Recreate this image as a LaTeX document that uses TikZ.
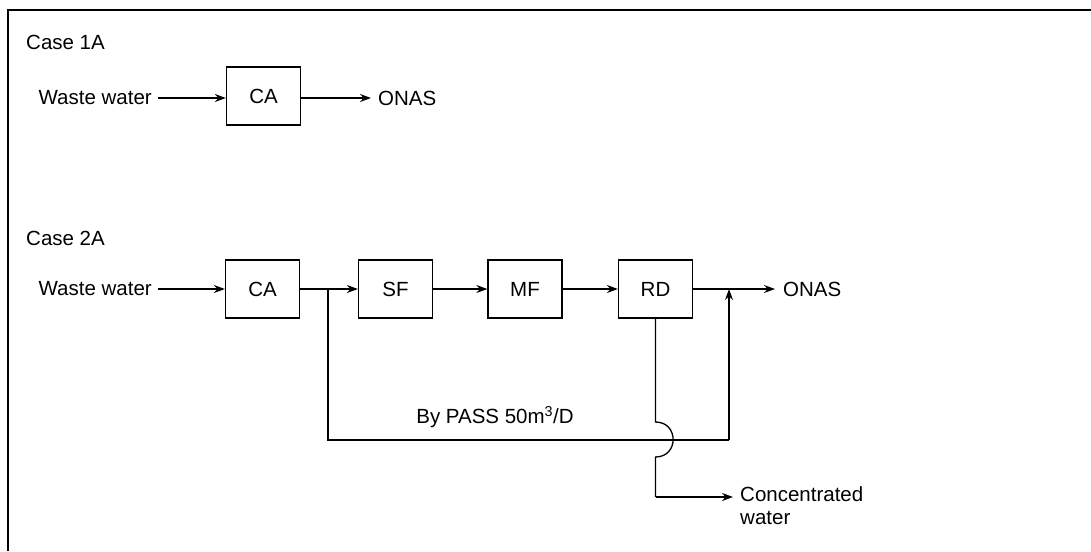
\documentclass[tikz,border=0pt]{standalone}
\usepackage{fontspec}
\setmainfont{Liberation Sans}
\usetikzlibrary{arrows.meta}
\begin{document}
\begin{tikzpicture}[x=1pt,y=-1pt,
  every node/.style={font=\fontsize{20.5}{23}\selectfont, inner sep=0pt},
  unit/.style={draw, line width=1.3pt, minimum width=74pt, minimum height=58pt},
  flow/.style={line width=1.3pt, -{Stealth[length=11pt,width=8pt]}},
  pipe/.style={line width=1.3pt},
  frame/.style={line width=1.8pt}]
\useasboundingbox (0,0) rectangle (1091,551);
% frame (top and left edges)
\coordinate (ftr) at (1091,10);
\coordinate (ftl) at (8,10);
\coordinate (fbl) at (8,551);
\draw[frame] (ftr) -- (ftl) -- (fbl);

% Case 1A
\node[anchor=west] (c1) at (26,42) {Case 1A};
\node[anchor=east] (ww1) at (152,98) {Waste water};
\node[unit] (ca1) at (263.5,96) {CA};
\node[anchor=west] (on1) at (378,98) {ONAS};
\draw[flow] (ww1.east) ++(6,0) coordinate (w1s) -- (ca1.west |- w1s);
\draw[flow] (ca1.east |- on1.west) -- ([xshift=-7pt]on1.west);

% Case 2A
\node[anchor=west] (c2) at (26,238) {Case 2A};
\node[anchor=east] (ww2) at (152,289) {Waste water};
\node[unit] (ca2) at (262.5,289) {CA};
\node[unit] (sf) at (395.5,289) {SF};
\node[unit] (mf) at (525,289) {MF};
\node[unit] (rd) at (655.5,289) {RD};
\node[anchor=west] (on2) at (783,289) {ONAS};
\node[anchor=north west, align=left] (cw) at (740,486) {Concentrated\\water};
\node (bp) at (495,417) {By PASS 50m\textsuperscript{3}/D};

\draw[flow] ([xshift=6pt]ww2.east) -- (ca2.west);
\draw[flow] (ca2.east) -- (sf.west);
\draw[flow] (sf.east) -- (mf.west);
\draw[flow] (mf.east) -- (rd.west);
\draw[flow] (rd.east) -- ([xshift=-8pt]on2.west);

% bypass
\coordinate (b1) at (328,289);
\coordinate (b2) at (328,440);
\coordinate (b3) at (729,440);
\coordinate (j) at (729,289);
\draw[pipe] (b1) -- (b2) -- (b3);
\draw[flow] (b3) -- (j);

% concentrate line with hop
\coordinate (h1) at (655.5,422);
\coordinate (h2) at (655.5,457);
\coordinate (c3) at (655.5,497);
\coordinate (c4) at (733,497);
\draw[pipe] (rd.south) -- (h1) .. controls (679,422) and (679,457) .. (h2) -- (c3);
\draw[flow] (c3) -- (c4);
\end{tikzpicture}
\end{document}
